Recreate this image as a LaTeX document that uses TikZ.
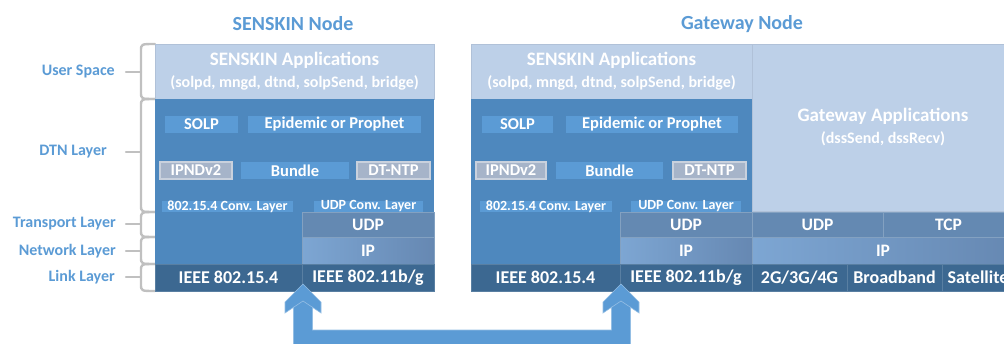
\documentclass[tikz,border=0pt]{standalone}
\usepackage{fontspec}
\setmainfont{Carlito}
\definecolor{tblue}{HTML}{5B9BD5}
\definecolor{userbg}{HTML}{BDD0E8}
\definecolor{dtnbg}{HTML}{4E88BE}
\definecolor{inbox}{HTML}{5B9BD5}
\definecolor{graybox}{HTML}{A6B4C9}
\definecolor{grayedge}{HTML}{C9D1DD}
\definecolor{udpc}{HTML}{6489B2}
\definecolor{ipA}{HTML}{7DA6D3}
\definecolor{ipB}{HTML}{6688B2}
\definecolor{linkc}{HTML}{3C6891}
\definecolor{bracec}{HTML}{C0C0C0}
\definecolor{arrowc}{HTML}{5B9BD5}
\newcommand{\bigline}[1]{{\fontsize{19}{22}\selectfont #1}}
\newcommand{\smallline}[1]{{\fontsize{16}{22}\selectfont #1}}
\tikzset{
  cell/.style={inner sep=0pt, outer sep=0pt, text=white, anchor=center},
  appbox/.style={cell, fill=userbg, draw=userbg!93!black, line width=0.5pt, align=center,
    font=\fontsize{16}{22}\selectfont\bfseries},
  dtnbox/.style={cell, fill=dtnbg},
  proto/.style={cell, fill=inbox, minimum height=17pt, font=\fontsize{16.5}{18}\selectfont\bfseries},
  grayproto/.style={proto, fill=graybox, draw=grayedge, line width=1.2pt},
  conv/.style={cell, fill=inbox, minimum height=11pt, font=\fontsize{14}{15}\selectfont\bfseries},
  udpbox/.style={cell, fill=udpc, draw=udpc!80!white, line width=0.6pt, minimum height=25pt,
    font=\fontsize{17.5}{20}\selectfont\bfseries},
  ipbox/.style={cell, left color=ipA, right color=ipB, draw=udpc!80!white, line width=0.6pt,
    minimum height=27pt, font=\fontsize{17.5}{20}\selectfont\bfseries},
  linkbox/.style={cell, fill=linkc, draw=linkc!85!white, line width=0.6pt, minimum height=27pt,
    font=\fontsize{18}{20}\selectfont\bfseries},
  layerlbl/.style={text=tblue, anchor=east, inner sep=0pt, font=\fontsize{16}{18}\selectfont\bfseries},
  titlelbl/.style={text=tblue, inner sep=0pt, font=\fontsize{20}{22}\selectfont\bfseries},
  bracepath/.style={draw=bracec, line width=2.4pt, line cap=round},
  bigarrow/.style={fill=arrowc, draw=arrowc!65!white, line width=0.6pt, line join=miter}
}
\begin{document}
\begin{tikzpicture}[x=1pt,y=-1pt]
\useasboundingbox (0,0) rectangle (1004,343);
\clip (0,0) rectangle (1004,343);

% titles
\node[titlelbl] (tS) at (293,24) {SENSKIN Node};
\node[titlelbl] (tG) at (742,24) {Gateway Node};

% layer labels
\node[layerlbl] (lUser) at (115,72) {User Space};
\node[layerlbl] (lDTN) at (107,152) {DTN Layer};
\node[layerlbl] (lTr) at (116,224) {Transport Layer};
\node[layerlbl] (lNet) at (116,251) {Network Layer};
\node[layerlbl] (lLink) at (115,277) {Link Layer};

% braces
\foreach \top/\bot/\mid in {44/99/72, 99/212/152, 212/237/224, 237/264/251, 264/291/277}{
  \draw[bracepath] (155,\top) .. controls (141,\top) .. (141,\top+7) -- (141,\bot-7) .. controls (141,\bot) .. (155,\bot);
  \draw[bracepath] (126,\mid) -- (141,\mid);
}

% ---------------- SENSKIN node ----------------
\node[appbox, minimum width=279pt, minimum height=55pt] (sApp) at (294.5,71.5)
  {\bigline{SENSKIN Applications}\\\smallline{(solpd, mngd, dtnd, solpSend, bridge)}};
\node[dtnbox, minimum width=279pt, minimum height=113pt] (sDTN) at (294.5,155.5) {};
\node[dtnbox, minimum width=147pt, minimum height=53pt] (sDTNlow) at (228.5,237.5) {};
\node[proto, minimum width=73pt] (sSOLP) at (201.5,124.5) {SOLP};
\node[proto, minimum width=173pt] (sEpi) at (334.5,124.5) {Epidemic or Prophet};
\node[grayproto, minimum width=72pt] (sIPND) at (196,170.5) {IPNDv2};
\node[proto, minimum width=108pt] (sBundle) at (295,170.5) {Bundle};
\node[grayproto, minimum width=73pt] (sNTP) at (393.5,170.5) {DT-NTP};
\node[conv, minimum width=131pt] (sConv1) at (227.5,206.5) {802.15.4 Conv. Layer};
\node[conv, minimum width=109pt] (sConv2) at (368.5,206.5) {UDP Conv. Layer};
\node[udpbox, minimum width=132pt] (sUDP) at (368,224.5) {UDP};
\node[ipbox, minimum width=132pt] (sIP) at (368,250.5) {IP};
\node[linkbox, minimum width=147pt] (sL1) at (228.5,277.5) {IEEE 802.15.4};
\node[linkbox, minimum width=132pt] (sL2) at (368,277.5) {IEEE 802.11b/g};

% ---------------- Gateway node ----------------
\node[appbox, minimum width=281pt, minimum height=55pt] (gApp) at (611.5,71.5)
  {\bigline{SENSKIN Applications}\\\smallline{(solpd, mngd, dtnd, solpSend, bridge)}};
\node[appbox, minimum width=262pt, minimum height=167pt] (gGw) at (883,127.5)
  {\bigline{Gateway Applications}\\\smallline{(dssSend, dssRecv)}};
\node[dtnbox, minimum width=281pt, minimum height=113pt] (gDTN) at (611.5,155.5) {};
\node[dtnbox, minimum width=149pt, minimum height=53pt] (gDTNlow) at (545.5,237.5) {};
\node[proto, minimum width=71pt] (gSOLP) at (517.5,124.5) {SOLP};
\node[proto, minimum width=172pt] (gEpi) at (652,124.5) {Epidemic or Prophet};
\node[grayproto, minimum width=70pt] (gIPND) at (511,170.5) {IPNDv2};
\node[proto, minimum width=107pt] (gBundle) at (609.5,170.5) {Bundle};
\node[grayproto, minimum width=73pt] (gNTP) at (709.5,170.5) {DT-NTP};
\node[conv, minimum width=132pt] (gConv1) at (546,206.5) {802.15.4 Conv. Layer};
\node[conv, minimum width=110pt] (gConv2) at (686,206.5) {UDP Conv. Layer};
\node[udpbox, minimum width=132pt] (gUDP1) at (686,224.5) {UDP};
\node[udpbox, minimum width=131pt] (gUDP2) at (817.5,224.5) {UDP};
\node[udpbox, minimum width=131pt] (gTCP) at (948.5,224.5) {TCP};
\node[ipbox, minimum width=132pt] (gIP1) at (686,250.5) {IP};
\node[ipbox, minimum width=262pt] (gIP2) at (883,250.5) {IP};
\node[linkbox, minimum width=149pt] (gL1) at (545.5,277.5) {IEEE 802.15.4};
\node[linkbox, minimum width=132pt] (gL2) at (686,277.5) {IEEE 802.11b/g};
\node[linkbox, minimum width=95pt] (gL3) at (799.5,277.5) {2G/3G/4G};
\node[linkbox, minimum width=95pt] (gL4) at (894.5,277.5) {Broadband};
\node[linkbox, minimum width=72pt] (gL5) at (978,277.5) {Satellite};

% ---------------- double arrow ----------------
\draw[bigarrow] (303,284) -- (321,302) -- (321,313) -- (312.5,307.3) -- (312.5,330)
  -- (611.5,330) -- (611.5,307.3) -- (603,313) -- (603,302) -- (621,284) -- (639,302)
  -- (639,313) -- (630.5,307.3) -- (630.5,350) -- (293.5,350) -- (293.5,307.3)
  -- (285,313) -- (285,302) -- cycle;
\draw[draw=arrowc!65!white, line width=0.6pt] (293.5,307.3) -- (303,301) -- (312.5,307.3);
\draw[draw=arrowc!65!white, line width=0.6pt] (611.5,307.3) -- (621,301) -- (630.5,307.3);
\end{tikzpicture}
\end{document}
